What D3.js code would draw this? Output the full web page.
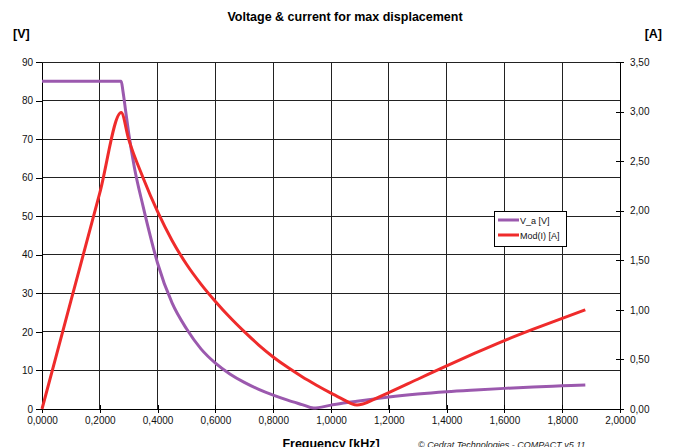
<!DOCTYPE html>
<html>
<head>
<meta charset="utf-8">
<script src="https://cdn.jsdelivr.net/npm/d3@7/dist/d3.min.js"></script>
<style>
  html, body { margin: 0; padding: 0; background: #fff; }
  svg { display: block; font-family: "Liberation Sans", Arial, sans-serif; }
</style>
</head>
<body>
<svg id="chart" width="676" height="447"></svg>
<script>
// Drive voltage V_a [V] against frequency [kHz]
const freqV = [0, 0.1, 0.2, 0.274, 0.28, 0.29, 0.3, 0.32, 0.35, 0.375, 0.4, 0.45, 0.5, 0.55,
               0.6, 0.65, 0.7, 0.75, 0.8, 0.85, 0.9, 0.94, 1.0, 1.05, 1.09, 1.15, 1.2, 1.3,
               1.4, 1.5, 1.6, 1.7, 1.8, 1.88];
const voltage = [85, 85, 85, 85, 82.5, 77, 71.5, 62.5, 52.5, 44.8, 37.8, 27.5, 20.8, 15.6,
                 11.9, 9.1, 6.9, 5.1, 3.6, 2.3, 1.15, 0.25, 1.0, 1.6, 2.0, 2.6, 3.1, 3.9,
                 4.5, 4.95, 5.35, 5.7, 6.0, 6.25];

// Current amplitude Mod(I) [A] against frequency [kHz]
const freqI = [0, 0.1, 0.2, 0.274, 0.3, 0.35, 0.4, 0.45, 0.5, 0.55, 0.6, 0.65, 0.7, 0.75,
               0.8, 0.85, 0.9, 0.95, 1.0, 1.05, 1.07, 1.09, 1.11, 1.15, 1.2, 1.3, 1.4, 1.5,
               1.6, 1.7, 1.8, 1.88];
const current = [0, 1.09, 2.18, 2.99, 2.72, 2.33, 1.99, 1.70, 1.46, 1.26, 1.085, 0.925, 0.78, 0.645,
                 0.525, 0.42, 0.325, 0.24, 0.16, 0.085, 0.055, 0.04, 0.05, 0.10, 0.165, 0.30, 0.435, 0.565,
                 0.69, 0.805, 0.915, 1.0];

const xTicks = d3.range(0, 2.0001, 0.2);
const vTicks = d3.range(0, 90.001, 10);
const aTicks = d3.range(0, 3.5001, 0.5);

const seriesNames = ["V_a [V]", "Mod(I) [A]"];
const seriesColors = ["#9B59AE", "#EF2B2B"];

const svg = d3.select("#chart");
const m = { left: 42, right: 56, top: 62, bottom: 38 };
const W = 676, H = 447;
const x = d3.scaleLinear().domain([0, 2]).range([m.left, W - m.right]);
const yV = d3.scaleLinear().domain([0, 90]).range([H - m.bottom, m.top]);
const yA = d3.scaleLinear().domain([0, 3.5]).range([H - m.bottom, m.top]);

const comma = (digits) => (d) => d.toFixed(digits).replace(".", ",");

// grid
const grid = svg.append("g").attr("shape-rendering", "crispEdges");
grid.selectAll("line.h").data(vTicks.slice(1)).join("line")
  .attr("x1", x(0)).attr("x2", x(2)).attr("y1", d => yV(d)).attr("y2", d => yV(d))
  .attr("stroke", "#222").attr("stroke-width", 1);
grid.selectAll("line.v").data(xTicks.slice(1, -1)).join("line")
  .attr("x1", d => x(d)).attr("x2", d => x(d)).attr("y1", yV(0)).attr("y2", yV(90))
  .attr("stroke", "#222").attr("stroke-width", 1);

// axes
const styleAxis = g => {
  g.select(".domain").attr("stroke", "#000");
  g.selectAll(".tick line").attr("stroke", "#000");
  g.selectAll(".tick text").attr("fill", "#111").attr("font-size", 10);
  g.attr("shape-rendering", "crispEdges");
};

svg.append("g").attr("transform", `translate(${m.left},0)`)
  .call(d3.axisLeft(yV).tickValues(vTicks).tickFormat(d3.format("d")).tickSize(6).tickSizeOuter(0).tickPadding(3))
  .call(styleAxis);

const ra = svg.append("g").attr("transform", `translate(${W - m.right},0)`)
  .call(d3.axisRight(yA).tickValues(aTicks).tickFormat(comma(2)).tickSize(4).tickSizeOuter(0).tickPadding(6))
  .call(styleAxis);
ra.selectAll(".tick line").attr("x1", -4);

const xa = svg.append("g").attr("transform", `translate(0,${H - m.bottom})`)
  .call(d3.axisBottom(x).tickValues(xTicks).tickFormat(comma(4)).tickSize(4).tickSizeOuter(0).tickPadding(4))
  .call(styleAxis);
xa.selectAll(".tick line").attr("y1", -4);

// series
const line = d3.line().curve(d3.curveMonotoneX);
const pts = (fs, vals, y) => fs.map((f, i) => [x(f), y(vals[i])]);
svg.append("path").attr("d", line(pts(freqV, voltage, yV)))
  .attr("fill", "none").attr("stroke", seriesColors[0]).attr("stroke-width", 3).attr("stroke-linejoin", "round");
svg.append("path").attr("d", line(pts(freqI, current, yA)))
  .attr("fill", "none").attr("stroke", seriesColors[1]).attr("stroke-width", 3).attr("stroke-linejoin", "round");

// titles
svg.append("text").attr("x", 345).attr("y", 21).attr("text-anchor", "middle")
  .attr("font-size", 12.5).attr("font-weight", "bold").text("Voltage & current for max displacement");
svg.append("text").attr("x", 13).attr("y", 38).attr("font-size", 12.5).attr("font-weight", "bold").text("[V]");
svg.append("text").attr("x", 662).attr("y", 38).attr("text-anchor", "end")
  .attr("font-size", 12.5).attr("font-weight", "bold").text("[A]");
svg.append("text").attr("x", 331).attr("y", 448).attr("text-anchor", "middle")
  .attr("font-size", 12.5).attr("font-weight", "bold").text("Frequency [kHz]");
svg.append("text").attr("x", 418).attr("y", 448).attr("font-size", 9).attr("font-style", "italic")
  .attr("fill", "#222").text("© Cedrat Technologies - COMPACT v5.11");

// legend
const lg = svg.append("g").attr("transform", "translate(494,211)");
lg.append("rect").attr("width", 72).attr("height", 35).attr("fill", "#fff")
  .attr("stroke", "#000").attr("stroke-width", 1).attr("shape-rendering", "crispEdges");
seriesNames.forEach((name, i) => {
  const yy = 9 + i * 15;
  lg.append("line").attr("x1", 4).attr("x2", 25).attr("y1", yy).attr("y2", yy)
    .attr("stroke", seriesColors[i]).attr("stroke-width", 3);
  lg.append("text").attr("x", 26).attr("y", yy + 3.5).attr("font-size", 9).attr("fill", "#111").text(name);
});
</script>
</body>
</html>
